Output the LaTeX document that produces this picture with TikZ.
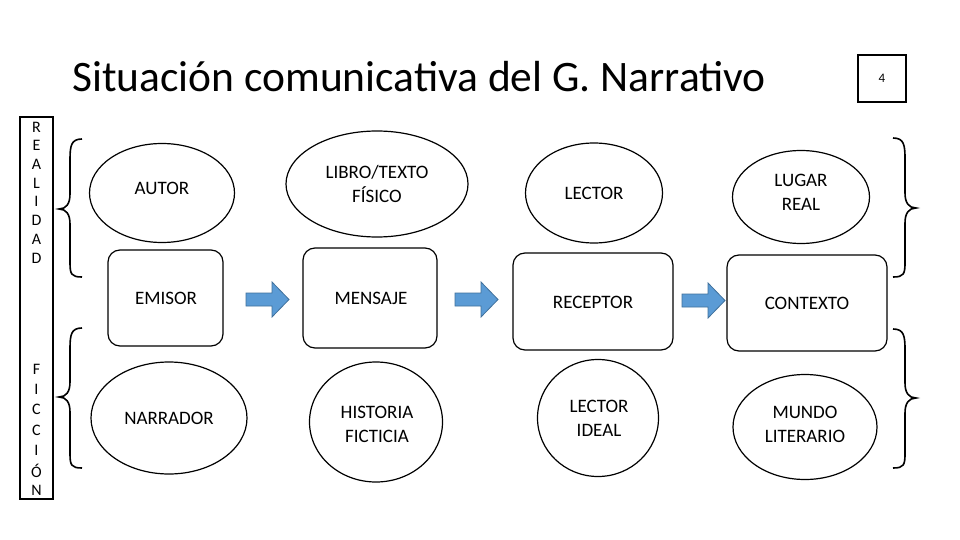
\documentclass[tikz,border=0pt]{standalone}
\usepackage{fontspec}
\setmainfont{Carlito}
\usetikzlibrary{shapes.geometric}
\definecolor{arrfill}{RGB}{91,155,213}
\definecolor{arrline}{RGB}{65,113,156}
\begin{document}
\begin{tikzpicture}[x=1pt,y=-1pt,
  lbl/.style={font=\fontsize{19}{24}\selectfont,align=center,inner sep=0},
  ell/.style={draw,ellipse,line width=1.2pt,inner sep=0},
  box/.style={draw,rounded corners=12pt,line width=1.2pt},
  brace/.style={line width=1.6pt},
  blue arrow/.style={fill=arrfill,draw=arrline,line width=0.8pt},
  vlet/.style={font=\fontsize{16}{16}\selectfont,inner sep=0}]
\useasboundingbox (0,0) rectangle (960,540);
\fill[white] (0,0) rectangle (960,540);
% title
\node[anchor=base west,inner sep=0,font=\fontsize{43.5}{46}\selectfont] (title) at (72,92) {Situación comunicativa del G. Narrativo};
\node[draw,line width=1.3pt,minimum width=48,minimum height=47,inner sep=0,font=\fontsize{13}{13}\selectfont] (page) at (882,78.5) {4};
% left vertical box
\draw[line width=1.3pt] (20,117) rectangle (53,499);
\foreach \l [count=\i] in {R,E,A,L,I,D,A,D}
  \node[vlet] (r\i) at (36.5,127+18.7*\i-18.7) {\l};
\foreach \l [count=\i] in {F,I,C,C,I,Ó,N}
  \node[vlet] (f\i) at (36.5,369+20.3*\i-20.3) {\l};
% braces
\draw[brace] (82,139) .. controls (71,139) and (70,146) .. (70,160) -- (70,194) .. controls (70,204) and (66,209) .. (59,209) .. controls (66,209) and (70,214) .. (70,224) -- (70,262) .. controls (70,274) and (71,277) .. (82,277);
\draw[brace] (82,328) .. controls (71,328) and (70,335) .. (70,349) -- (70,382) .. controls (70,392) and (66,397) .. (59,397) .. controls (66,397) and (70,402) .. (70,412) -- (70,453) .. controls (70,465) and (71,468) .. (82,468);
\draw[brace] (893,138) .. controls (904,138) and (905,145) .. (905,159) -- (905,193) .. controls (905,203) and (909,208) .. (916,208) .. controls (909,208) and (905,213) .. (905,223) -- (905,262) .. controls (905,274) and (904,277) .. (893,277);
\draw[brace] (893,329) .. controls (904,329) and (905,336) .. (905,350) -- (905,383) .. controls (905,393) and (909,398) .. (916,398) .. controls (909,398) and (905,403) .. (905,413) -- (905,453) .. controls (905,465) and (904,468) .. (893,468);
% column 1
\node[ell,minimum width=145,minimum height=99] (autor) at (162,193) {};
\node[lbl] (autorT) at (162,188) {AUTOR};
\draw[box] (108,250) rectangle (223,346);
\node[lbl] (emisor) at (166,298) {EMISOR};
\node[ell,minimum width=156,minimum height=112] (narr) at (169,418) {};
\node[lbl] (narrT) at (169,418) {NARRADOR};
% column 2
\node[ell,minimum width=182,minimum height=106] (libro) at (377,184) {};
\node[lbl] (libroT) at (377,184) {LIBRO/TEXTO\\FÍSICO};
\draw[box] (303,248) rectangle (437,348);
\node[lbl] (mensaje) at (371,298) {MENSAJE};
\node[ell,minimum width=133,minimum height=120] (hist) at (376,422) {};
\node[lbl] (histT) at (377,424) {HISTORIA\\FICTICIA};
% column 3
\node[ell,minimum width=137,minimum height=100] (lector) at (594,193) {};
\node[lbl] (lectorT) at (594,193) {LECTOR};
\draw[box] (513,253) rectangle (673,350);
\node[lbl] (receptor) at (593,302) {RECEPTOR};
\node[ell,minimum width=121,minimum height=117] (ideal) at (598,418) {};
\node[lbl] (idealT) at (599,418) {LECTOR\\IDEAL};
% column 4
\node[ell,minimum width=137,minimum height=93] (lugar) at (801,197) {};
\node[lbl] (lugarT) at (801,192) {LUGAR\\REAL};
\draw[box] (727,255) rectangle (887,351);
\node[lbl] (contexto) at (807,303) {CONTEXTO};
\node[ell,minimum width=144,minimum height=105] (mundo) at (805,427) {};
\node[lbl] (mundoT) at (805,424) {MUNDO\\LITERARIO};
% blue arrows
\foreach \x/\y in {246/282, 455/282, 682/283}
  \draw[blue arrow] (\x,\y+11) -- (\x+26,\y+11) -- (\x+26,\y) -- (\x+43,\y+17.5) -- (\x+26,\y+35) -- (\x+26,\y+24) -- (\x,\y+24) -- cycle;
\end{tikzpicture}
\end{document}
